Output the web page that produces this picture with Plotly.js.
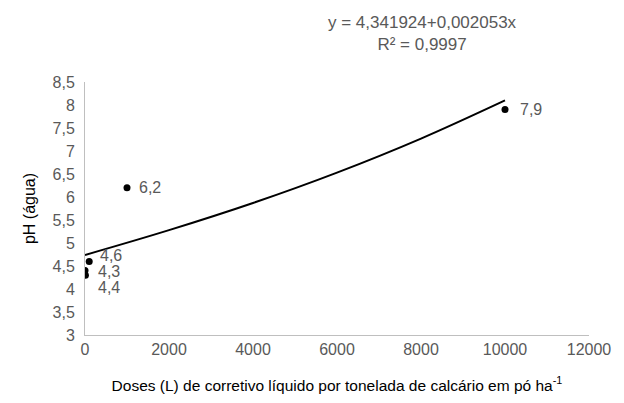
<!DOCTYPE html>
<html>
<head>
<meta charset="utf-8">
<script src="https://cdn.plot.ly/plotly-3.0.1.min.js"></script>
<style>html,body{margin:0;padding:0;background:#fff}#chart{width:624px;height:403px}</style>
</head>
<body>
<div id="chart"></div>
<script>
// Observed points
const doses = [0, 10, 100, 1000, 10000];
const ph = [4.4, 4.3, 4.6, 6.2, 7.9];
const pointLabels = ["4,4", "4,3", "4,6", "6,2", "7,9"];
// Trend line
const trendX = [0, 2000, 4000, 6000, 8000, 10000];
const trendY = [4.74, 5.28, 5.87, 6.53, 7.27, 8.1];
// Tick labels
const xTicks = [0, 2000, 4000, 6000, 8000, 10000, 12000];
const xTickText = ["0", "2000", "4000", "6000", "8000", "10000", "12000"];
const yTicks = [3, 3.5, 4, 4.5, 5, 5.5, 6, 6.5, 7, 7.5, 8, 8.5];
const yTickText = ["3", "3,5", "4", "4,5", "5", "5,5", "6", "6,5", "7", "7,5", "8", "8,5"];
const equation = "y = 4,341924+0,002053x<br>R² = 0,9997";

const labelShift = [{x: 11, y: -17}, {x: 11, y: 4}, {x: 9, y: 6}, {x: 10, y: 0}, {x: 13, y: 0}];
const gray = '#595959';
const font = 'Liberation Sans, Arial, sans-serif';

const annotations = doses.map((d, i) => ({
  x: d, y: ph[i], xref: 'x', yref: 'y', text: pointLabels[i], showarrow: false,
  xanchor: 'left', yanchor: 'middle', xshift: labelShift[i].x, yshift: labelShift[i].y,
  font: {family: font, size: 16, color: gray}
}));
annotations.push({
  x: (422 - 85) / (589 - 85), y: (335 - 33) / (335 - 82), xref: 'paper', yref: 'paper',
  text: equation, showarrow: false,
  xanchor: 'center', yanchor: 'middle', align: 'center',
  font: {family: font, size: 17, color: gray}
});

const traces = [
  {x: trendX, y: trendY, mode: 'lines', line: {color: '#000', width: 2, shape: 'spline'}, hoverinfo: 'skip'},
  {x: doses, y: ph, mode: 'markers', marker: {color: '#000', size: 7}}
];

const layout = {
  width: 624, height: 403,
  margin: {l: 85, r: 35, t: 82, b: 68},
  paper_bgcolor: '#fff', plot_bgcolor: '#fff',
  showlegend: false,
  font: {family: font, color: gray},
  xaxis: {
    range: [0, 12000], tickvals: xTicks, ticktext: xTickText,
    showgrid: false, zeroline: false, showline: true, linecolor: '#bfbfbf', linewidth: 1,
    ticks: '', tickfont: {family: font, size: 16, color: gray},
    title: {text: 'Doses (L) de corretivo líquido por tonelada de calcário em pó ha<sup>-1</sup>',
      font: {family: font, size: 15.5, color: '#000'}, standoff: 22}
  },
  yaxis: {
    range: [3, 8.5], tickvals: yTicks, ticktext: yTickText,
    showgrid: false, zeroline: false, showline: true, linecolor: '#bfbfbf', linewidth: 1,
    ticks: '', tickfont: {family: font, size: 16, color: gray}, ticklabelstandoff: 6,
    title: {text: 'pH (água)', font: {family: font, size: 16, color: '#000'}, standoff: 12}
  },
  annotations: annotations
};

Plotly.newPlot('chart', traces, layout, {displayModeBar: false, staticPlot: true});
</script>
</body>
</html>
